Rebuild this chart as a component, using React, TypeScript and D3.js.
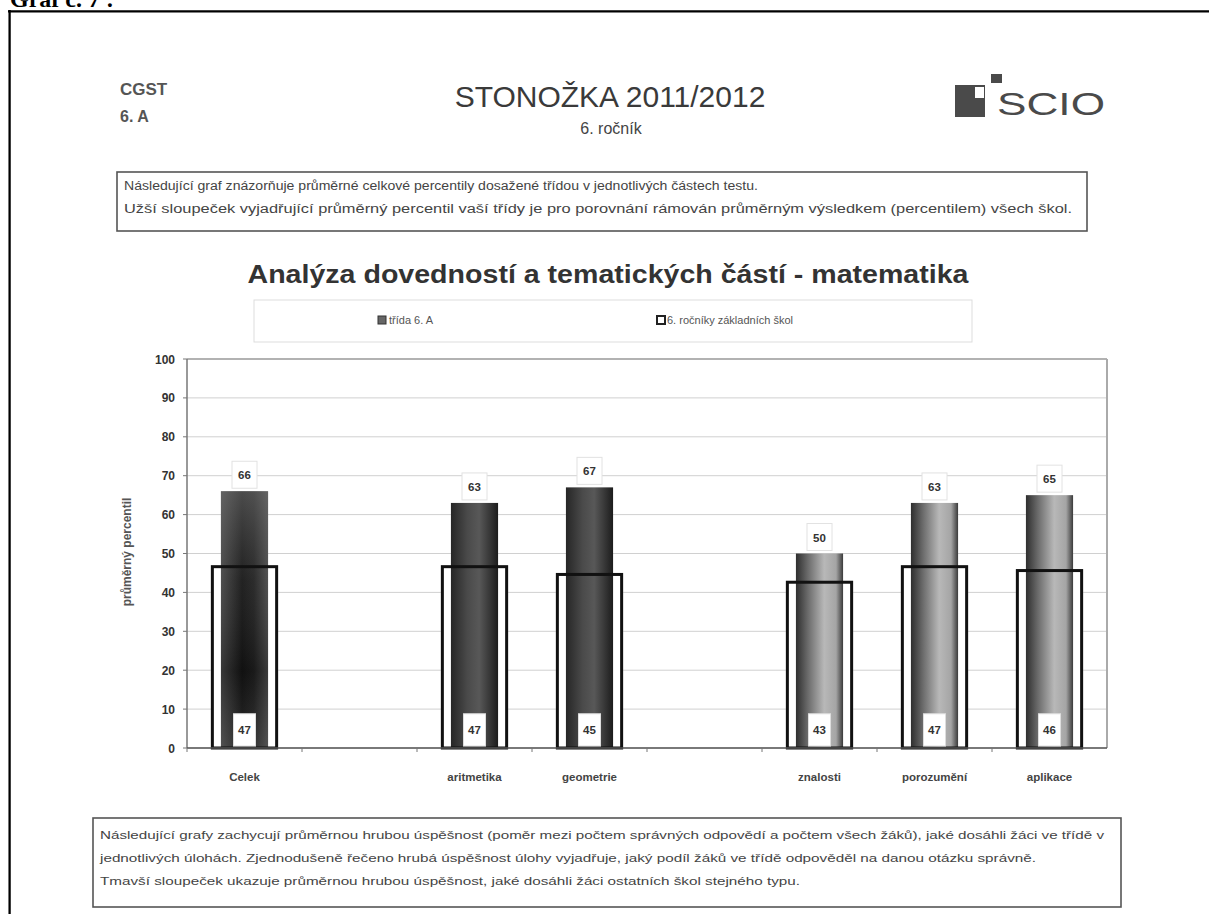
import React from "react";
import * as d3 from "d3";

const slots = ["Celek", "gap1", "aritmetika", "geometrie", "gap2", "znalosti", "porozumění", "aplikace"];
const categories = ["Celek", "aritmetika", "geometrie", "znalosti", "porozumění", "aplikace"];
const classValues = [66, 63, 67, 50, 63, 65];
const schoolValues = [47, 47, 45, 43, 47, 46];
const yTicks = [0, 10, 20, 30, 40, 50, 60, 70, 80, 90, 100];
const gradientOf = ["gCelek", "gDark", "gDark", "gLight", "gLight", "gLight"];

const topText = [
  "Následující graf znázorňuje průměrné celkové percentily dosažené třídou v jednotlivých částech testu.",
  "Užší sloupeček vyjadřující průměrný percentil vaší třídy je pro porovnání rámován průměrným výsledkem (percentilem) všech škol.",
];
const bottomText = [
  "Následující grafy zachycují průměrnou hrubou úspěšnost (poměr mezi počtem správných odpovědí a počtem všech žáků), jaké dosáhli žáci ve třídě v",
  "jednotlivých úlohách. Zjednodušeně řečeno hrubá úspěšnost úlohy vyjadřuje, jaký podíl žáků ve třídě odpověděl na danou otázku správně.",
  "Tmavší sloupeček ukazuje průměrnou hrubou úspěšnost, jaké dosáhli žáci ostatních škol stejného typu.",
];

const W = 1209;
const H = 914;
const plot = { left: 187, right: 1107, top: 359, bottom: 748 };
const SANS = "'Liberation Sans', Arial, sans-serif";
const NARROW = "'Liberation Sans Narrow', 'Arial Narrow', 'Liberation Sans', sans-serif";

export default function App() {
  const x = d3.scaleBand().domain(slots).range([plot.left, plot.right]).paddingInner(0).paddingOuter(0);
  const y = d3.scaleLinear().domain([0, 100]).range([plot.bottom, plot.top]);
  const bw = x.bandwidth();
  const darkW = bw * 0.41;
  const frameW = bw * 0.585;

  return (
    <svg width={W} height={H} style={{ position: "absolute", left: 0, top: 0, background: "#fff" }}>
      <defs>
        <linearGradient id="gCelek" x1="0" x2="1" y1="0" y2="0">
          <stop offset="0" stopColor="#4a4a4a" />
          <stop offset="0.45" stopColor="#161616" />
          <stop offset="0.7" stopColor="#222" />
          <stop offset="1" stopColor="#4d4d4d" />
        </linearGradient>
        <linearGradient id="gCelekV" x1="0" x2="0" y1="0" y2="1">
          <stop offset="0" stopColor="#777" stopOpacity="0.55" />
          <stop offset="0.35" stopColor="#666" stopOpacity="0.15" />
          <stop offset="0.7" stopColor="#000" stopOpacity="0.25" />
          <stop offset="1" stopColor="#666" stopOpacity="0.25" />
        </linearGradient>
        <linearGradient id="gDark" x1="0" x2="1" y1="0" y2="0">
          <stop offset="0" stopColor="#262626" />
          <stop offset="0.35" stopColor="#4a4a4a" />
          <stop offset="0.6" stopColor="#585858" />
          <stop offset="0.85" stopColor="#333" />
          <stop offset="1" stopColor="#1c1c1c" />
        </linearGradient>
        <linearGradient id="gLight" x1="0" x2="1" y1="0" y2="0">
          <stop offset="0" stopColor="#2e2e2e" />
          <stop offset="0.25" stopColor="#6a6a6a" />
          <stop offset="0.6" stopColor="#b8b8b8" />
          <stop offset="0.85" stopColor="#a5a5a5" />
          <stop offset="1" stopColor="#3a3a3a" />
        </linearGradient>
      </defs>

      {/* page frame */}
      <text x={10} y={7} fontFamily="'Liberation Serif', 'Times New Roman', serif" fontWeight="bold" fontSize={24} fill="#000">Graf č. 7 :</text>
      <line x1={8} x2={W} y1={11.3} y2={11.3} stroke="#000" strokeWidth={2.3} />
      <line x1={9.6} x2={9.6} y1={10} y2={H} stroke="#000" strokeWidth={2.3} />

      {/* header */}
      <text x={120} y={95} fontFamily={SANS} fontWeight="bold" fontSize={17} fill="#555">CGST</text>
      <text x={120} y={122} fontFamily={SANS} fontWeight="bold" fontSize={16} fill="#555">6. A</text>
      <text x={610} y={107} textAnchor="middle" fontFamily={SANS} fontSize={30} fill="#3a3a3a">STONOŽKA 2011/2012</text>
      <text x={611} y={134} textAnchor="middle" fontFamily={SANS} fontSize={16} fill="#444">6. ročník</text>

      {/* SCIO logo */}
      <rect x={955} y={85} width={30} height={32} fill="#4a4a4a" />
      <rect x={975} y={87} width={9} height={11} fill="#fff" />
      <rect x={991} y={74} width={11} height={9} fill="#4a4a4a" />
      <text x={997} y={115} fontFamily={SANS} fontSize={31} fontWeight="300" fill="#4a4a4a" textLength={108} lengthAdjust="spacingAndGlyphs">SCIO</text>

      {/* top explanatory box */}
      <rect x={117} y={172} width={970} height={59} fill="#fff" stroke="#555" strokeWidth={1.6} />
      {topText.map((t, i) => (
        <text key={i} x={124} y={190 + i * 23} fontFamily={NARROW} fontSize={12} fill="#444"
          textLength={i === 0 ? 634 : 948} lengthAdjust="spacingAndGlyphs">{t}</text>
      ))}

      {/* chart title */}
      <text x={608} y={283} textAnchor="middle" fontFamily={SANS} fontWeight="bold" fontSize={25} fill="#333"
        textLength={721} lengthAdjust="spacingAndGlyphs">Analýza dovedností a tematických částí - matematika</text>

      {/* legend */}
      <rect x={254} y={300} width={718} height={42} fill="#fff" stroke="#ddd" strokeWidth={1} />
      <rect x={378} y={316} width={8} height={8} fill="#666" stroke="#333" strokeWidth={1} />
      <text x={389} y={324} fontFamily={SANS} fontSize={11} fill="#555">třída 6. A</text>
      <rect x={657} y={316} width={8} height={8} fill="#fff" stroke="#222" strokeWidth={2} />
      <text x={667} y={324} fontFamily={SANS} fontSize={11} fill="#555">6. ročníky základních škol</text>

      {/* gridlines */}
      {yTicks.map((t) => (
        <line key={t} x1={plot.left} x2={plot.right} y1={y(t)} y2={y(t)} stroke={t === 100 ? "#999" : "#d0d0d0"} strokeWidth={t === 100 ? 1.5 : 1} />
      ))}
      <line x1={plot.right} x2={plot.right} y1={plot.top} y2={plot.bottom} stroke="#aaa" strokeWidth={2} />
      <line x1={plot.left} x2={plot.left} y1={plot.top} y2={plot.bottom} stroke="#777" strokeWidth={1.5} />
      {yTicks.map((t) => (
        <g key={"t" + t}>
          <line x1={plot.left - 4} x2={plot.left} y1={y(t)} y2={y(t)} stroke="#777" />
          <text x={175} y={y(t) + 4.5} textAnchor="end" fontFamily={SANS} fontWeight="bold" fontSize={12} fill="#333">{t}</text>
        </g>
      ))}
      <text transform={`translate(131,552) rotate(-90)`} textAnchor="middle" fontFamily={SANS} fontWeight="bold" fontSize={12} fill="#555">průměrný percentil</text>

      {/* bars */}
      {categories.map((c, i) => {
        const cx = (x(c) as number) + bw / 2;
        const fy = y(schoolValues[i]);
        const dy = y(classValues[i]);
        return (
          <g key={c}>
            <rect x={cx - frameW / 2} y={fy} width={frameW} height={plot.bottom - fy} fill="#fff" />
            <rect x={cx - darkW / 2} y={dy} width={darkW} height={plot.bottom - dy} fill={`url(#${gradientOf[i]})`} />
            {gradientOf[i] === "gCelek" && (
              <rect x={cx - darkW / 2} y={dy} width={darkW} height={plot.bottom - dy} fill="url(#gCelekV)" />
            )}
            <rect x={cx - frameW / 2 + 1.5} y={fy + 1.5} width={frameW - 3} height={plot.bottom - fy - 1.5} fill="none" stroke="#111" strokeWidth={3} />
            <rect x={cx - 12.5} y={dy - 30} width={25} height={27} fill="#fff" stroke="#e2e2e2" strokeWidth={1} />
            <text x={cx} y={dy - 12} textAnchor="middle" fontFamily={SANS} fontWeight="bold" fontSize={11.5} fill="#333">{classValues[i]}</text>
            <rect x={cx - 11} y={y(8.8)} width={22} height={y(0.5) - y(8.8)} fill="#fff" stroke="#ddd" strokeWidth={1} />
            <text x={cx} y={y(4.7) + 4.5} textAnchor="middle" fontFamily={SANS} fontWeight="bold" fontSize={11.5} fill="#333">{schoolValues[i]}</text>
            <text x={cx} y={plot.bottom + 33} textAnchor="middle" fontFamily={SANS} fontWeight="bold" fontSize={11.5} fill="#444">{c}</text>
          </g>
        );
      })}
      <line x1={plot.left} x2={plot.right} y1={plot.bottom} y2={plot.bottom} stroke="#555" strokeWidth={1.5} />
      {slots.map((s) => (
        <line key={"xt" + s} x1={x(s) as number} x2={x(s) as number} y1={plot.bottom} y2={plot.bottom + 4} stroke="#777" />
      ))}

      {/* bottom explanatory box */}
      <rect x={93} y={818} width={1028} height={89} fill="#fff" stroke="#555" strokeWidth={1.6} />
      {bottomText.map((t, i) => (
        <text key={i} x={100} y={839 + i * 23} fontFamily={NARROW} fontSize={11.5} fill="#444"
          textLength={[1004, 936, 700][i]} lengthAdjust="spacingAndGlyphs">{t}</text>
      ))}
    </svg>
  );
}
